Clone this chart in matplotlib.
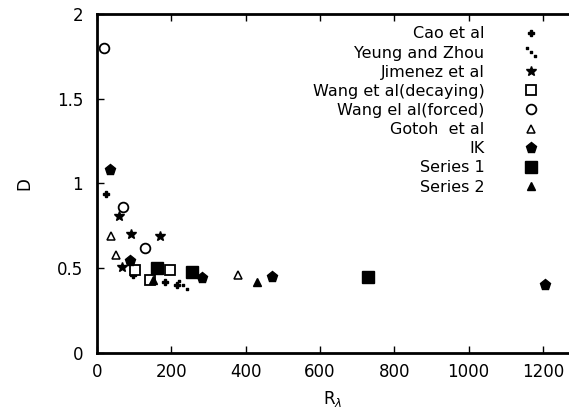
import numpy as np
import matplotlib
matplotlib.use("Agg")
import matplotlib.pyplot as plt

plt.rcParams['font.family'] = ['DejaVu Sans']

# data (R_lambda, D)
cao_x = [24, 97, 183, 215]
cao_y = [0.94, 0.46, 0.42, 0.40]

yeung_x = [232]
yeung_y = [0.40]

jimenez_x = [59, 67, 91, 170]
jimenez_y = [0.81, 0.51, 0.70, 0.69]

wang_dec_x = [102, 143, 196]
wang_dec_y = [0.49, 0.43, 0.49]

wang_forced_x = [19, 70, 130]
wang_forced_y = [1.80, 0.86, 0.62]

gotoh_x = [38, 51, 380]
gotoh_y = [0.69, 0.58, 0.46]

ik_x = [35, 89, 282, 470, 1205]
ik_y = [1.08, 0.54, 0.44, 0.45, 0.40]

s1_x = [161, 255, 730]
s1_y = [0.50, 0.48, 0.45]

s2_x = [150, 430]
s2_y = [0.43, 0.42]

fig = plt.figure(figsize=(5.69, 4.16), dpi=100)
ax = fig.add_axes([0.1705, 0.1514, 0.8295, 0.815])

ax.plot(cao_x, cao_y, 'P', color='black', ms=5, ls='none', label='Cao et al')
ax.plot(yeung_x, yeung_y, ls='none', marker=r'$\ddots$', color='black', ms=7, label='Yeung and Zhou')
ax.plot(jimenez_x, jimenez_y, '*', color='black', ms=7, ls='none', label='Jimenez et al')
ax.plot(wang_dec_x, wang_dec_y, 's', mfc='white', mec='black', mew=1.3, ms=7, ls='none', label='Wang et al(decaying)')
ax.plot(wang_forced_x, wang_forced_y, 'o', mfc='white', mec='black', mew=1.3, ms=7, ls='none', label='Wang el al(forced)')
ax.plot(gotoh_x, gotoh_y, '^', mfc='white', mec='black', mew=1.1, ms=6, ls='none', label='Gotoh  et al')
ax.plot(ik_x, ik_y, 'p', color='black', ms=8, ls='none', label='IK')
ax.plot(s1_x, s1_y, 's', color='black', ms=8, ls='none', label='Series 1')
ax.plot(s2_x, s2_y, '^', color='black', ms=6, ls='none', label='Series 2')

ax.set_xlim(0, 1270)
ax.set_ylim(0, 2)
ax.set_xticks([0, 200, 400, 600, 800, 1000, 1200])
ax.set_yticks([0, 0.5, 1, 1.5, 2])
ax.set_yticklabels(['0', '0.5', '1', '1.5', '2'])

for side in ['left', 'bottom', 'top']:
    ax.spines[side].set_linewidth(2)
ax.spines['right'].set_visible(False)
ax.tick_params(direction='in', length=5, width=1, top=True, right=False,
               labelsize=12)
ax.tick_params(axis='y', pad=10)
ax.tick_params(axis='x', pad=7)

ax.set_xlabel(r'R$_\lambda$', fontsize=12, labelpad=6)
ax.set_ylabel('D', fontsize=12, labelpad=17)

ax.legend(loc='upper right', bbox_to_anchor=(0.958, 0.952), bbox_transform=fig.transFigure,
          frameon=False, markerfirst=False, fontsize=11.5, labelspacing=0.26,
          handlelength=1.0, handletextpad=2.4, borderaxespad=0)

fig.savefig('out.png', dpi=100)
